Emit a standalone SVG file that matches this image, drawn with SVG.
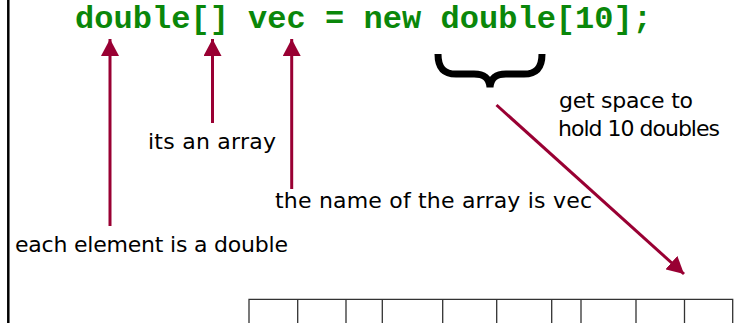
<svg xmlns="http://www.w3.org/2000/svg" width="736" height="323" viewBox="0 0 736 323">
<style>
.code{font-family:"Liberation Mono","Courier New",monospace;font-weight:bold;font-size:32px;fill:#0a870a}
.lbl{font-family:"DejaVu Sans","Noto Sans",sans-serif;font-size:22px;fill:#000}
.conn{stroke:#990033;stroke-width:3;fill:none}
.cell{stroke:#333;stroke-width:1.3;fill:none}
</style>
<defs>
<marker id="ah" markerUnits="userSpaceOnUse" viewBox="0 0 17 18" refX="17" refY="9" markerWidth="17" markerHeight="18" orient="auto">
<path d="M0,0 L17,9 L0,18 Z" fill="#990033"/>
</marker>
</defs>
<rect x="0" y="0" width="736" height="323" fill="#fff"/>
<line x1="8.3" y1="0" x2="8.3" y2="323" stroke="#000" stroke-width="2.5"/>
<g id="code"><text class="code" x="75" y="28" textLength="577" lengthAdjust="spacing">double[] vec = new double[10];</text></g>
<g id="brace"><path d="M438,54 C438,68 444,74 456,74 L474,74 C484,74 489,78 490,87 C491,78 496,74 506,74 L524,74 C536,74 542,68 542,54" fill="none" stroke="#000" stroke-width="7"/></g>
<g id="label-array"><text class="lbl" x="148" y="149" textLength="128" lengthAdjust="spacing">its an array</text></g>
<g id="label-name"><text class="lbl" x="275" y="208" textLength="317" lengthAdjust="spacing">the name of the array is vec</text></g>
<g id="label-element"><text class="lbl" x="15" y="252" textLength="273" lengthAdjust="spacing">each element is a double</text></g>
<g id="label-space"><text class="lbl" x="559" y="108" textLength="134" lengthAdjust="spacing">get space to</text><text class="lbl" x="558" y="136" textLength="162" lengthAdjust="spacing">hold 10 doubles</text></g>
<g id="array-cells">
<path class="cell" d="M249,330 V299.3 H732.7 V330"/>
<path class="cell" d="M297.7,299.3V330 M346,299.3V330 M382.3,299.3V330 M442.7,299.3V330 M496.7,299.3V330 M551.7,299.3V330 M581,299.3V330 M636,299.3V330 M684.5,299.3V330"/>
</g>
<g id="connectors">
<line class="conn" x1="110" y1="226" x2="110" y2="39" marker-end="url(#ah)"/>
<line class="conn" x1="212.5" y1="123" x2="212.5" y2="39" marker-end="url(#ah)"/>
<line class="conn" x1="291.7" y1="189" x2="291.7" y2="39" marker-end="url(#ah)"/>
<line class="conn" x1="496.5" y1="105" x2="684" y2="274" marker-end="url(#ah)"/>
</g>
</svg>
